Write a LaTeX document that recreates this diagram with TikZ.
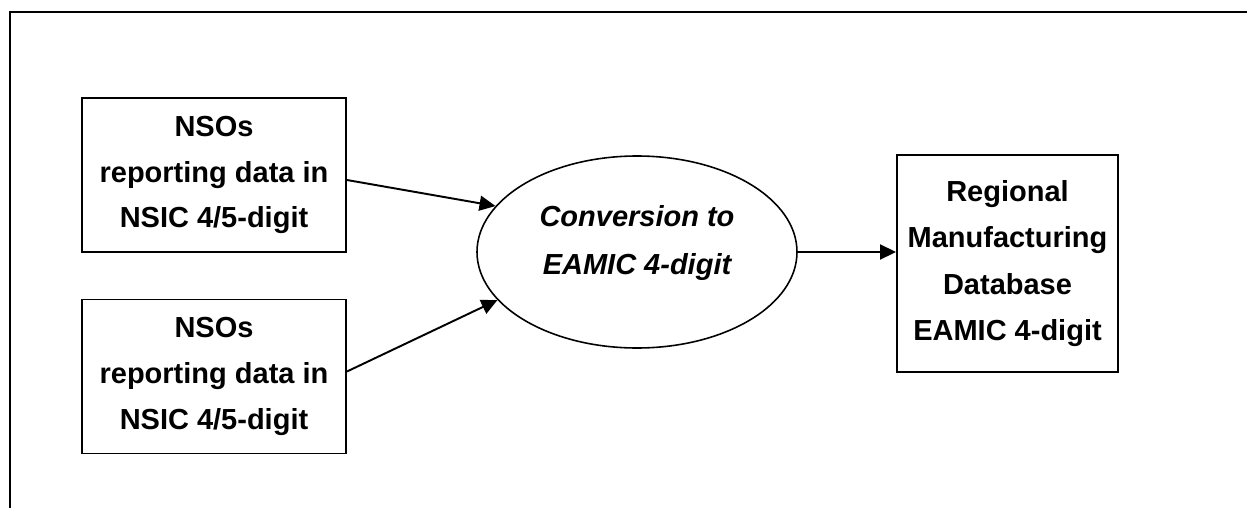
\documentclass[tikz,border=0pt]{standalone}
\usepackage{fontspec}
\setmainfont{Liberation Sans}
\usetikzlibrary{shapes.geometric, arrows.meta, calc}

\tikzset{
    srcbox/.style={draw, line width=1.1pt, minimum width=5.28cm, minimum height=3.08cm,
        align=center, font=\fontsize{16.5}{26}\selectfont\bfseries},
    dbbox/.style={draw, line width=1.1pt, minimum width=4.42cm, minimum height=4.34cm,
        align=center, font=\fontsize{16.5}{26.5}\selectfont\bfseries},
    convell/.style={draw, ellipse, line width=0.9pt, minimum width=6.4cm, minimum height=3.84cm},
    flow/.style={-{Triangle[length=0.32cm, width=0.3cm]}, line width=1.1pt}
}

\begin{document}
\begin{tikzpicture}
    \useasboundingbox (0,0) rectangle (24.94,-10.16);
    % open frame (top and left edges only)
    \draw[line width=1.3pt] (0.2,-10.16) |- (24.94,-0.24);

    % reporting offices
    \node[srcbox] (nso1) at (4.28,-3.50) {NSOs\\reporting data in\\NSIC 4/5-digit};
    \node[srcbox] (nso2) at (4.28,-7.53) {NSOs\\reporting data in\\NSIC 4/5-digit};

    % conversion step
    \node[convell] (conv) at (12.74,-5.04) {};
    \node[align=center, font=\fontsize{16.5}{27}\selectfont\bfseries\itshape] (convtxt)
        at ([yshift=0.18cm]conv.center) {Conversion to\\EAMIC 4-digit};

    % regional database
    \node[dbbox] (rdb) at (20.15,-5.27) {Regional\\Manufacturing\\Database\\EAMIC 4-digit};

    \draw[flow] ($(nso1.east)+(0,-0.1)$) -- (conv.162);
    \draw[flow] ($(nso2.east)+(0,0.1)$) -- (conv.199);
    \draw[flow] (conv.east) -- (rdb.west |- conv.east);
\end{tikzpicture}
\end{document}
